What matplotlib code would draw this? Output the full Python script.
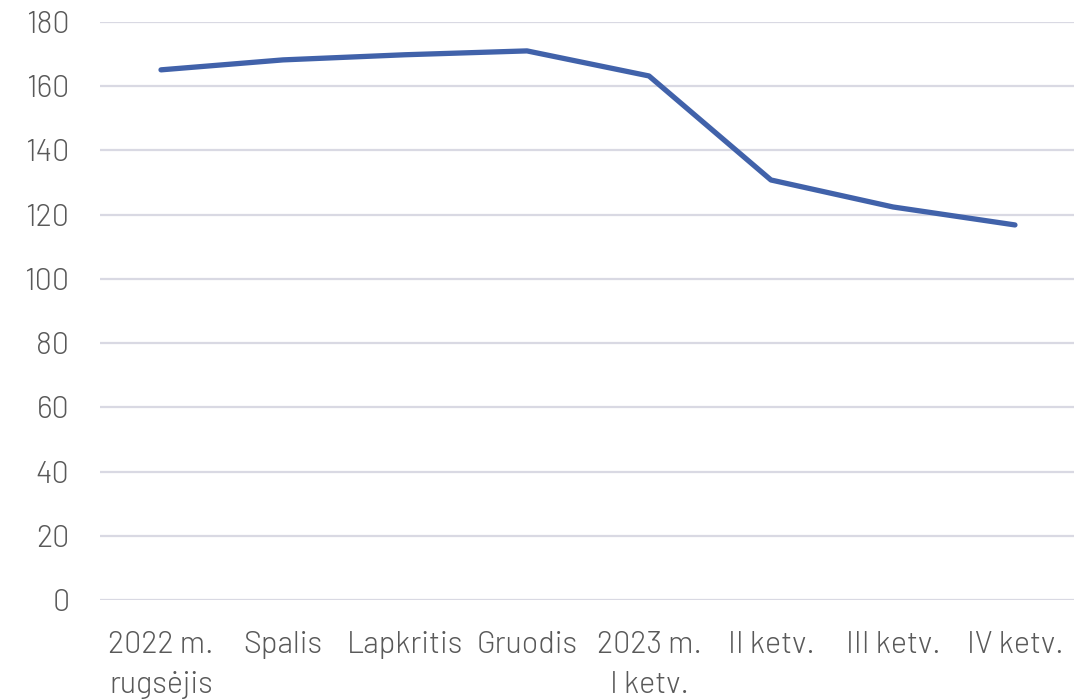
import matplotlib
matplotlib.use("Agg")
import matplotlib.pyplot as plt

categories = ["2022 m.\nrugsėjis", "Spalis", "Lapkritis", "Gruodis",
              "2023 m.\nI ketv.", "II ketv.", "III ketv.", "IV ketv."]
values = [165.1, 168.2, 169.8, 171.0, 163.2, 130.8, 122.4, 116.8]
yticks = [0, 20, 40, 60, 80, 100, 120, 140, 160, 180]

plt.rcParams['font.family'] = ["Barlow", 'DejaVu Sans']
plt.rcParams['font.weight'] = 300

fig = plt.figure(figsize=(10.74, 7.0), dpi=100)
ax = fig.add_axes([100/1074, 100/700, 974/1074, 578/700])
x = list(range(len(categories)))
ax.plot(x, values, color="#4162AA", lw=3.8, solid_capstyle="round", solid_joinstyle="round", zorder=3)
ax.set_ylim(0, 180)
ax.set_xlim(-0.5, 7.484)
ax.set_yticks(yticks)
ax.set_xticks(x)
ax.set_xticklabels(categories, linespacing=1.55)
ax.yaxis.grid(True, color="#D9D9E3", lw=1.6)
ax.set_axisbelow(True)
for s in ax.spines.values():
    s.set_visible(False)
ax.tick_params(axis="both", length=0, labelsize=22, colors="#595959")
ax.tick_params(axis="y", pad=22)
ax.tick_params(axis="x", pad=22)
for lbl in ax.get_yticklabels() + ax.get_xticklabels():
    lbl.set_fontweight(300)
fig.savefig("out.png", dpi=100)
